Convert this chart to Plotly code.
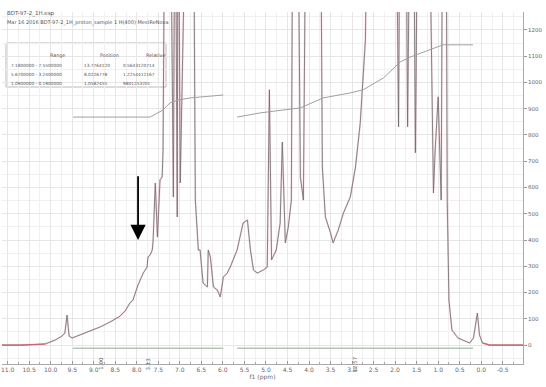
import numpy as np
import plotly.graph_objects as go

# ---------------- data ----------------
OFF = 2000  # peaks running beyond the top of the plot

ppm = [11.13, 10.71, 10.13, 9.90, 9.74, 9.67, 9.62, 9.57, 9.50, 9.32, 9.09, 8.85, 8.62,
       8.39, 8.27, 8.16, 8.09, 8.04, 7.97, 7.92, 7.85, 7.76, 7.74, 7.69, 7.64, 7.62,
       7.57, 7.52, 7.46, 7.41, 7.39, 7.34, 7.27, 7.23, 7.15, 7.11, 7.06, 7.04, 6.99,
       6.94, 6.83, 6.76, 6.69, 6.64, 6.57, 6.53, 6.46, 6.41, 6.36, 6.34, 6.29, 6.22,
       6.13, 6.06, 5.99, 5.90, 5.83, 5.67, 5.53, 5.43, 5.36, 5.29, 5.20, 5.06, 4.97,
       4.92, 4.87, 4.76, 4.67, 4.62, 4.55, 4.48, 4.41, 4.37, 4.27, 4.20, 4.13, 4.06,
       3.74, 3.69, 3.62, 3.50, 3.44, 3.32, 3.20, 3.04, 2.92, 2.81, 2.69, 2.62, 1.99,
       1.92, 1.88, 1.76, 1.71, 1.64, 1.58, 1.53, 1.46, 1.23, 1.11, 1.07, 1.00, 0.93,
       0.89, 0.82, 0.79, 0.75, 0.68, 0.54, 0.38, 0.27, 0.18, 0.14, 0.09, 0.04, -0.03,
       -0.20, -0.97]
intensity = [0, 0, 4, 19, 34, 46, 114, 34, 27, 38, 53, 69, 88,
             110, 130, 160, 171, 198, 229, 248, 274, 297, 335, 343, 362, 400,
             617, 411, 629, 640, 743, OFF, OFF, OFF, 564, OFF, 488, OFF, 617,
             OFF, OFF, OFF, OFF, 552, 362, 362, 236, 229, 221, 362, 335, 221,
             210, 183, 259, 274, 297, 362, 465, 476, 362, 286, 274, 286, 297,
             972, 324, 362, 465, 773, 389, 450, 552, OFF, OFF, 640, 552, OFF,
             OFF, 678, 488, 427, 389, 438, 503, 564, 678, 846, 1162, OFF, OFF,
             831, OFF, OFF, 831, OFF, OFF, 732, OFF, OFF, 579, 743, 945, 552,
             OFF, OFF, 552, 171, 57, 27, 15, 8, 27, 76, 122, 38, 8,
             0, 0]

integral1_ppm = [9.48, 8.85, 7.69, 7.39, 7.23, 7.04, 6.76, 5.99]
integral1_val = [868, 868, 868, 895, 922, 933, 941, 952]
integral2_ppm = [5.67, 5.13, 4.20, 3.67, 3.04, 2.74, 2.27, 1.88, 1.64, 1.34, 1.11, 0.89, 0.19]
integral2_val = [868, 884, 903, 941, 960, 972, 1017, 1078, 1097, 1116, 1132, 1143, 1143]

integral_regions = [(9.48, 5.99), (5.67, 0.19)]
integral_label_ppm = [8.85, 7.74, 2.92]
integral_label_text = ["1.00", "3.13", "12.57"]

x_tickvals = [11.0 - 0.5 * i for i in range(24)]
x_ticktext = ["%.1f" % v for v in x_tickvals]
y_tickvals = list(range(0, 1201, 100))
y_ticktext = [str(v) for v in y_tickvals]

arrow_ppm = 7.97
arrow_tail = 648
arrow_head = 400

title_lines = ["BDT-97-2_1H.esp",
               "Mar 16 2016 BDT-97-2_1H_proton_sample 1 H(400) MestReNova"]
table_header = ["Range", "Position", "Relative"]
table_rows = [["7.1800000 - 7.5500000", "13.7764120", "0.5643120714"],
              ["5.6700000 - 3.2400000", "8.0226778", "1.2254412167"],
              ["1.0900000 - 0.1900000", "1.0582455", "9801253201"]]

# ---------------- figure ----------------
ppm_a = np.array(ppm)
int_a = np.array(intensity, dtype=float)

fig = go.Figure()

# faint pink halo of the spectrum trace
fig.add_trace(go.Scatter(x=ppm_a, y=int_a, mode="lines",
                         line=dict(color="rgba(220,150,165,0.35)", width=1.8),
                         hoverinfo="skip", showlegend=False))
# main grey trace
fig.add_trace(go.Scatter(x=ppm_a, y=int_a, mode="lines",
                         line=dict(color="#6f6a6c", width=0.8),
                         showlegend=False))
# red baseline ends
for mask in (ppm_a >= 10.13, ppm_a <= -0.03):
    fig.add_trace(go.Scatter(x=ppm_a[mask], y=int_a[mask], mode="lines",
                             line=dict(color="#d9606e", width=1.1),
                             hoverinfo="skip", showlegend=False))

# integral curves
for xs, ys in ((integral1_ppm, integral1_val), (integral2_ppm, integral2_val)):
    fig.add_trace(go.Scatter(x=xs, y=ys, mode="lines",
                             line=dict(color="#a0a0a0", width=1),
                             showlegend=False))

# integral region bars under the baseline
for a, b in integral_regions:
    fig.add_trace(go.Scatter(x=[a, b], y=[-12, -12], mode="lines",
                             line=dict(color="#b3c8b3", width=1.4),
                             showlegend=False))

annotations = []
for xv, t in zip(integral_label_ppm, integral_label_text):
    annotations.append(dict(x=xv, y=-38, xref="x", yref="y", text=t, showarrow=False,
                            textangle=-90, yanchor="top",
                            font=dict(size=5.5, color="#666666", family="DejaVu Sans")))

# arrow
annotations.append(dict(x=arrow_ppm, y=arrow_head, ax=arrow_ppm, ay=arrow_tail,
                        xref="x", yref="y", axref="x", ayref="y", text="",
                        showarrow=True, arrowhead=2, arrowsize=1.7, arrowwidth=1.8,
                        arrowcolor="black"))

# title lines top-left
def px_x(px):
    return (px - 2) / 521.0

def px_y(py):
    return (364 - py) / 352.0

annotations.append(dict(x=px_x(5), y=px_y(8), xref="paper", yref="paper",
                        text=title_lines[0], showarrow=False, xanchor="left",
                        font=dict(size=5.5, color="#555555", family="DejaVu Sans")))
annotations.append(dict(x=px_x(5), y=px_y(17), xref="paper", yref="paper",
                        text=title_lines[1], showarrow=False, xanchor="left",
                        font=dict(size=5, color="#555555", family="DejaVu Sans")))

head_x = [px_x(48), px_x(98), px_x(144)]
for cx, h in zip(head_x, table_header):
    annotations.append(dict(x=cx, y=px_y(51), xref="paper", yref="paper", text=h,
                            showarrow=False,
                            font=dict(size=4.8, color="#555555", family="DejaVu Sans")))
col_left = [px_x(9), px_x(82), px_x(121)]
row_y = [px_y(61), px_y(70), px_y(79)]
for ry, row in zip(row_y, table_rows):
    for cx, cell in zip(col_left, row):
        annotations.append(dict(x=cx, y=ry, xref="paper", yref="paper", text=cell,
                                showarrow=False, xanchor="left",
                                font=dict(size=4.3, color="#555555", family="DejaVu Sans")))

shapes = [dict(type="rect", xref="paper", yref="paper",
               x0=px_x(6), x1=px_x(166), y0=px_y(87), y1=px_y(43),
               line=dict(color="#a8a8a8", width=0.8), fillcolor="white", layer="below")]

fig.update_layout(
    width=546, height=387, autosize=False,
    margin=dict(l=2, r=23, t=12, b=23),
    paper_bgcolor="white", plot_bgcolor="white",
    font=dict(family="DejaVu Sans", size=7, color="#555555"),
    annotations=annotations, shapes=shapes,
    xaxis=dict(range=[11.13, -0.97], tickvals=x_tickvals, ticktext=x_ticktext,
               showgrid=True, gridcolor="#e6e6e6", gridwidth=1,
               minor=dict(dtick=0.25, showgrid=True, gridcolor="#f2eff0",
                          ticks="inside", ticklen=2, tickcolor="#aaaaaa"),
               ticks="inside", ticklen=3, tickcolor="#999999",
               showline=True, linecolor="#aaaaaa", linewidth=1,
               zeroline=False, tickfont=dict(size=6, color="#666666"),
               title=dict(text="f1 (ppm)", font=dict(size=6, color="#666666"),
                          standoff=1)),
    yaxis=dict(range=[-72, 1268], side="right", tickvals=y_tickvals, ticktext=y_ticktext,
               showgrid=True, gridcolor="#e6e6e6", gridwidth=1,
               minor=dict(dtick=50, showgrid=True, gridcolor="#f2eff0"),
               ticks="outside", ticklen=3, tickcolor="#999999",
               showline=True, linecolor="#aaaaaa", linewidth=1,
               zeroline=False, tickfont=dict(size=5.5, color="#666666")),
)

fig.write_html("out.html")
